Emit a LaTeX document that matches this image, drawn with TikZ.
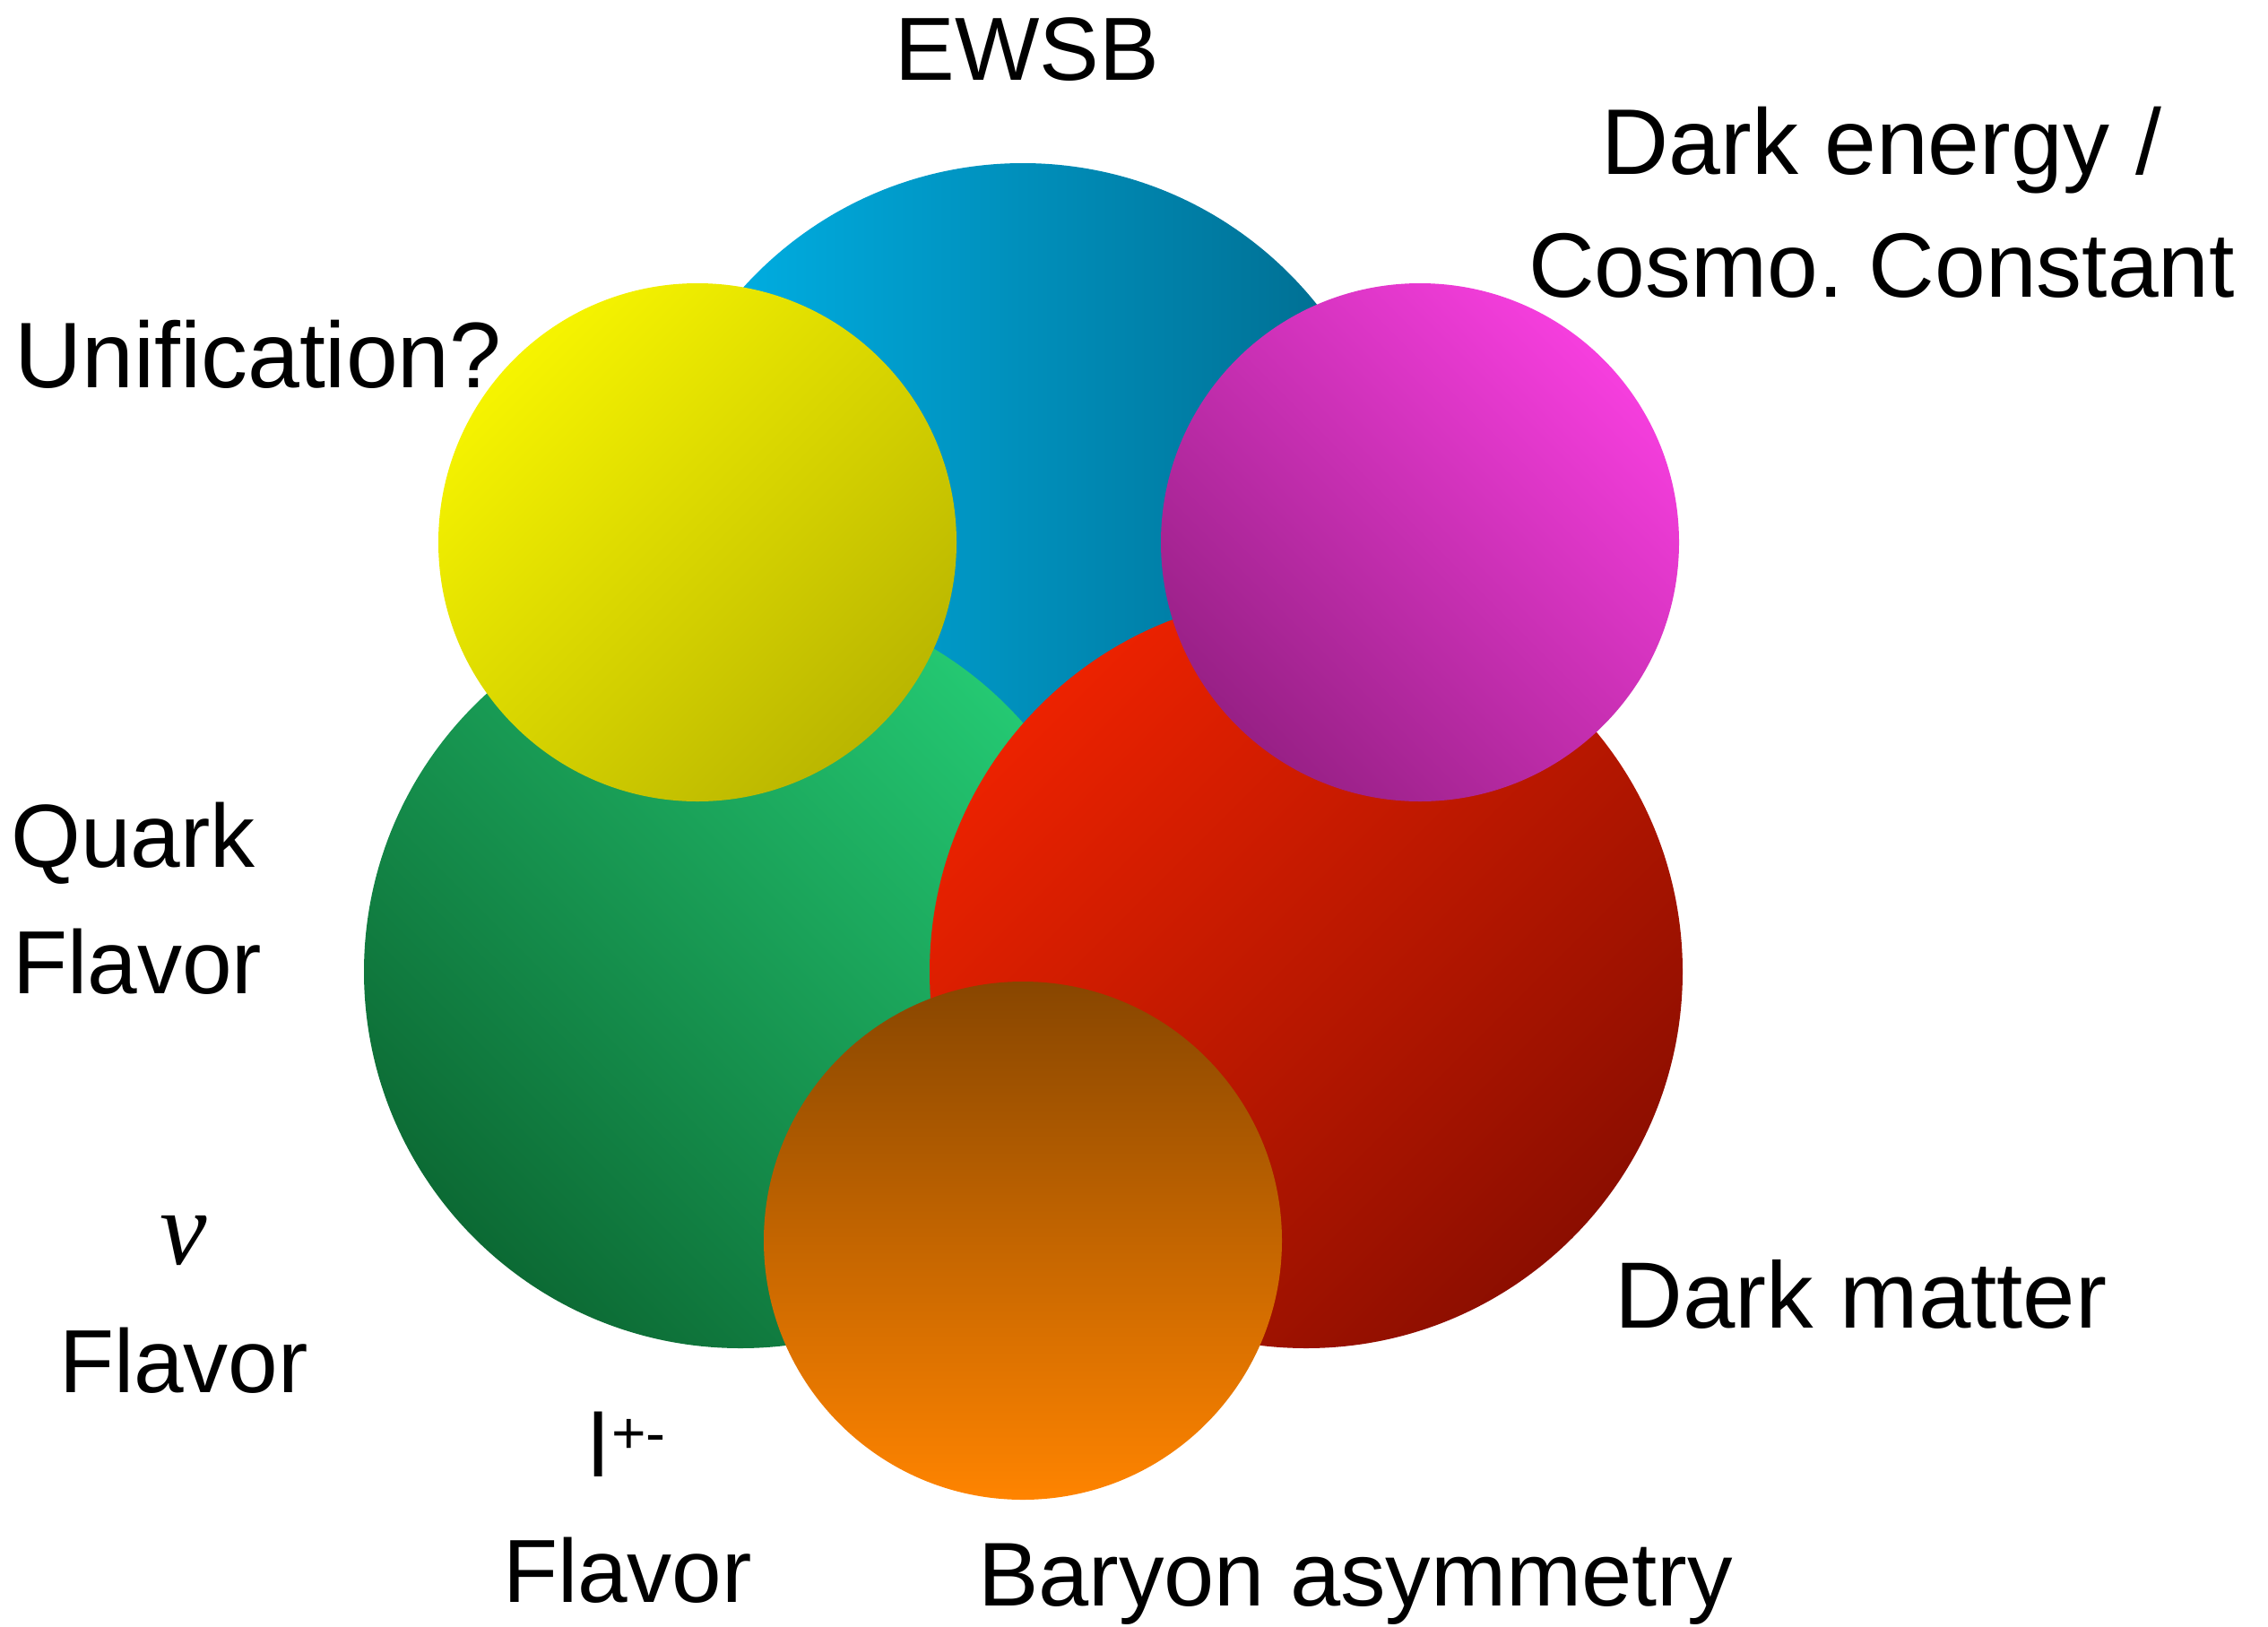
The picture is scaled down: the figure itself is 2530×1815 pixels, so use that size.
\documentclass[tikz,border=0pt]{standalone}
\usepackage{fontspec}
\setmainfont{Liberation Sans}
\newfontfamily\nufont{Liberation Serif}
\frenchspacing

\definecolor{blueL}{RGB}{0,182,236}
\definecolor{blueD}{RGB}{0,104,138}
\definecolor{greenL}{RGB}{36,200,114}
\definecolor{greenD}{RGB}{12,106,52}
\definecolor{redL}{RGB}{236,34,0}
\definecolor{redD}{RGB}{140,14,0}
\definecolor{yelL}{RGB}{246,244,0}
\definecolor{yelD}{RGB}{186,182,0}
\definecolor{magL}{RGB}{246,62,222}
\definecolor{magD}{RGB}{152,32,134}
\definecolor{orT}{RGB}{136,70,0}
\definecolor{orB}{RGB}{255,132,0}

\begin{document}
\begin{tikzpicture}[x=1pt,y=-1pt,
  lab/.style={font=\fontsize{100}{120}\selectfont, inner sep=0pt, anchor=base},
  biglab/.style={lab, font=\fontsize{104}{120}\selectfont},
  disc/.style n args={3}{top color=#2, bottom color=#3, shading angle=#1}]
\useasboundingbox (0,0) rectangle (2530,1815);

% large discs
\shade[disc={90}{blueL}{blueD}] (1141,602) circle[radius=420];
\shade[disc={-45}{greenL}{greenD}] (826,1084) circle[radius=420];
\shade[disc={45}{redL}{redD}] (1457,1084) circle[radius=420];
% small discs
\shade[disc={45}{yelL}{yelD}] (778,605) circle[radius=289];
\shade[disc={-45}{magL}{magD}] (1584,605) circle[radius=289];
\shade[disc={0}{orT}{orB}] (1141,1384) circle[radius=289];

% labels
\node[lab] (ewsb) at (1146,89) {EWSB};
\node[biglab] (de1) at (2099,194) {Dark energy /};
\node[lab, font=\fontsize{102}{120}\selectfont] (de2) at (2099,331) {Cosmo. Constant};
\node[biglab, anchor=base west] (unif) at (16,432) {Unification?};
\node[lab, anchor=base west] (qk1) at (12,967) {Quark};
\node[lab, anchor=base west] (qk2) at (14,1108) {Flavor};
\node[inner sep=0pt, font=\fontsize{118}{120}\selectfont\nufont\itshape] (nu) at (205,1384) {ν};
\node[lab] (nuf) at (205,1553) {Flavor};
\node[lab, anchor=base west] (lep) at (656,1647) {l\hspace{4pt}\raisebox{26pt}{\fontsize{66}{70}\selectfont +-}};
\node[lab] (lepf) at (700,1787) {Flavor};
\node[biglab, font=\fontsize{105}{120}\selectfont] (dm) at (2076,1481) {Dark matter};
\node[lab, font=\fontsize{101}{120}\selectfont] (bar) at (1512,1791) {Baryon asymmetry};
\end{tikzpicture}
\end{document}
